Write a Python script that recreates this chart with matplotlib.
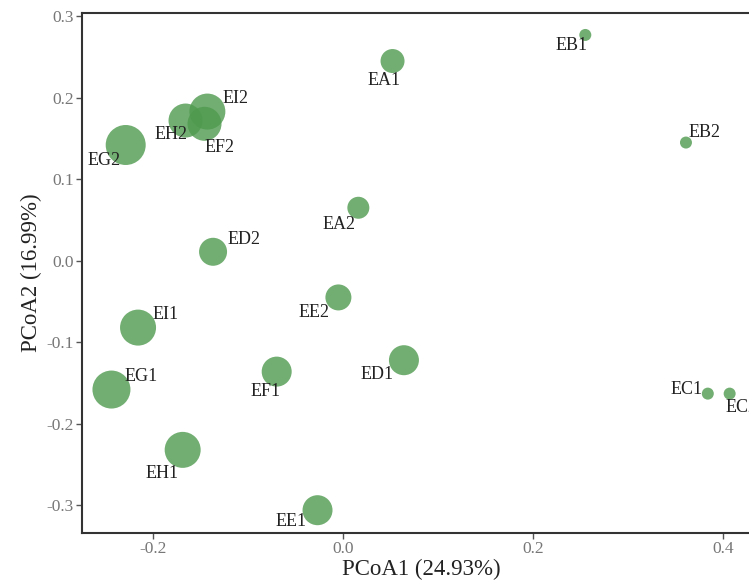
import matplotlib
matplotlib.use("Agg")
import matplotlib.pyplot as plt

plt.rcParams['font.family'] = ['Liberation Serif', 'DejaVu Serif']
plt.rcParams['axes.unicode_minus'] = False

samples = ['EA1', 'EB1', 'EB2', 'EI2', 'EH2', 'EF2', 'EG2', 'EA2', 'ED2',
           'EE2', 'EI1', 'EG1', 'EF1', 'EH1', 'EE1', 'ED1', 'EC1', 'EC2']
pcoa1 = [0.052, 0.255, 0.361, -0.143, -0.166, -0.146, -0.229, 0.016, -0.137,
         -0.005, -0.216, -0.244, -0.070, -0.169, -0.027, 0.064, 0.384, 0.407]
pcoa2 = [0.245, 0.277, 0.145, 0.183, 0.172, 0.168, 0.142, 0.065, 0.011,
         -0.045, -0.082, -0.158, -0.136, -0.232, -0.306, -0.122, -0.163, -0.163]
# relative marker radius (px)
radius = [12, 6, 6, 18, 17, 17, 20, 11, 14, 13, 18, 19, 15, 18, 15, 15, 6, 6]

# label offsets in pixels (dx, dy), repel-style placement
offsets = [(-8, -19), (-14, -11), (19, 10), (28, 13), (-15, -14), (15, -24),
           (-22, -16), (-19, -17), (31, 12), (-24, -15), (28, 13), (30, 13),
           (-11, -20), (-21, -24), (-26, -11), (-27, -14), (-21, 4), (12, -14)]

fig = plt.figure(figsize=(7.49, 5.88), dpi=100)
ax = fig.add_axes([0.1095, 0.0935, 0.9065, 0.8845])

sizes = [(2 * r * 0.72) ** 2 for r in radius]
ax.scatter(pcoa1, pcoa2, s=sizes, color='#4f9a4f', alpha=0.8, edgecolors='none', zorder=2)

for name, x, y, (dx, dy) in zip(samples, pcoa1, pcoa2, offsets):
    ax.annotate(name, (x, y), xytext=(dx * 0.72, dy * 0.72), textcoords='offset points',
                ha='center', va='center', fontsize=13, color='#222222', zorder=3)

ax.set_xlim(-0.275, 0.44)
ax.set_ylim(-0.334, 0.304)
ax.set_xticks([-0.2, 0.0, 0.2, 0.4])
ax.set_yticks([-0.3, -0.2, -0.1, 0.0, 0.1, 0.2, 0.3])
ax.xaxis.set_major_formatter(matplotlib.ticker.FormatStrFormatter('%.1f'))
ax.yaxis.set_major_formatter(matplotlib.ticker.FormatStrFormatter('%.1f'))

for s in ax.spines.values():
    s.set_color('#333333')
    s.set_linewidth(1.5)
ax.tick_params(colors='#555555', labelcolor='#777777', labelsize=12.5, length=4, width=1, pad=2)

ax.set_xlabel('PCoA1 (24.93%)', fontsize=16.5, color='#222222', labelpad=1)
ax.set_ylabel('PCoA2 (16.99%)', fontsize=16.5, color='#222222', labelpad=3)

fig.savefig('out.png', dpi=100)
